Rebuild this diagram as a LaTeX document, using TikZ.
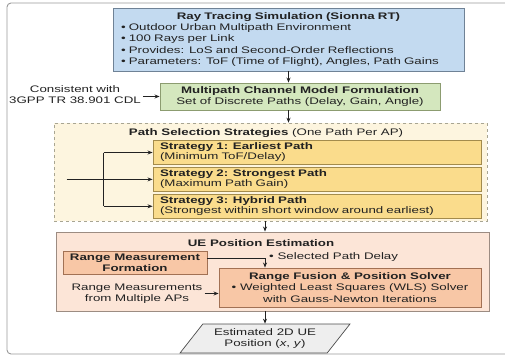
\documentclass[tikz,border=0pt]{standalone}
\usepackage{fontspec}
\setmainfont{Liberation Sans}[FakeStretch=1.4]
\usepackage{xcolor}
\usetikzlibrary{arrows.meta,positioning,shapes.geometric}
\definecolor{locink}{HTML}{222222}
\definecolor{simfill}{HTML}{C3DAF0}
\definecolor{simedge}{HTML}{6F8296}
\definecolor{modelfill}{HTML}{D4E7BE}
\definecolor{modeledge}{HTML}{8C9C70}
\definecolor{groupfill}{HTML}{FDF5DF}
\definecolor{groupedge}{HTML}{A8A592}
\definecolor{stratfill}{HTML}{FADC8C}
\definecolor{stratedge}{HTML}{A38B4C}
\definecolor{uefill}{HTML}{FCE5D7}
\definecolor{ueedge}{HTML}{9C8C82}
\definecolor{blockfill}{HTML}{F8C7A6}
\definecolor{blockedge}{HTML}{A27154}
\definecolor{outfill}{HTML}{EEEEEE}
\newcommand{\locfont}{\fontsize{9.5}{11.2}\selectfont}
\newcommand{\loctitle}[1]{\hfill\textbf{#1}\hfill\null}
\tikzset{
  loc box/.style={
    rectangle,
    line width=0.9pt,
    inner sep=0pt,
    text=locink,
    font=\locfont,
  },
  loc sim/.style={
    loc box,
    draw=simedge,
    fill=simfill,
    minimum width=351pt,
    minimum height=63pt,
    text width=335pt,
    align=left,
  },
  loc model/.style={
    loc box,
    draw=modeledge,
    fill=modelfill,
    minimum width=280pt,
    minimum height=27pt,
    align=center,
  },
  loc group/.style={
    loc box,
    dashed,
    line width=0.6pt,
    draw=groupedge,
    fill=groupfill,
  },
  loc strategy/.style={
    loc box,
    draw=stratedge,
    fill=stratfill,
    minimum width=328pt,
    minimum height=23.5pt,
    text width=314pt,
    align=left,
    font=\fontsize{9.5}{10}\selectfont,
  },
  loc ue/.style={
    loc box,
    draw=ueedge,
    fill=uefill,
    minimum width=433pt,
    minimum height=79pt,
  },
  loc block/.style={
    loc box,
    draw=blockedge,
    fill=blockfill,
    align=center,
  },
  loc output/.style={
    trapezium,
    trapezium left angle=47,
    trapezium right angle=133,
    trapezium stretches=true,
    minimum width=170pt,
    minimum height=29pt,
    inner sep=0pt,
    line width=0.7pt,
    draw=black!70,
    fill=outfill,
    text=locink,
    align=center,
    font=\locfont,
  },
  loc note/.style={text=locink, font=\locfont, inner sep=2pt},
  loc arrow/.style={-{Stealth[length=5pt,width=4pt]}, line width=0.8pt, draw=locink},
  loc line/.style={line width=0.8pt, draw=locink},
  loc frame/.style={line width=0.9pt, draw=black!40, rounded corners=4pt},
}

\begin{document}
\begin{tikzpicture}[x=1pt,y=-1pt]
  \useasboundingbox (0,0) rectangle (505,356);
  \draw[loc frame] (7,3) rectangle (522,354);

  % ray tracing and channel model
  \node[loc sim] (sim) at (288.5,39.5) {%
    \loctitle{Ray Tracing Simulation (Sionna RT)}\\
    • Outdoor Urban Multipath Environment\\
    • 100 Rays per Link\\
    • Provides: LoS and Second-Order Reflections\\
    • Parameters: ToF (Time of Flight), Angles, Path Gains};
  \node[loc model] (model) at (300,96.5)
    {\textbf{Multipath Channel Model Formulation}\\Set of Discrete Paths (Delay, Gain, Angle)};
  \node[loc note, align=center] (cdl) at (75,95) {Consistent with\\3GPP TR 38.901 CDL};

  % path selection
  \node[loc group, minimum width=433pt, minimum height=98pt] (sel) at (270.5,172) {};
  \node[loc note] (seltitle) at (266,133) {\textbf{Path Selection Strategies} (One Path Per AP)};
  \node[loc strategy] (s1) at (317,152.5)
    {\textbf{Strategy 1: Earliest Path}\\(Minimum ToF/Delay)};
  \node[loc strategy, below=2.5pt of s1] (s2)
    {\textbf{Strategy 2: Strongest Path}\\(Maximum Path Gain)};
  \node[loc strategy, below=2.5pt of s2] (s3)
    {\textbf{Strategy 3: Hybrid Path}\\(Strongest within short window around earliest)};
  \coordinate[left=86pt of s2.west] (feed);
  \coordinate[left=49pt of s2.west] (split);

  % position estimation
  \node[loc ue] (ue) at (272.5,271.5) {};
  \node[loc note] (uetitle) at (261,243) {\textbf{UE Position Estimation}};
  \node[loc block, minimum width=144pt, minimum height=23pt] (rmf) at (135,262.5)
    {\textbf{Range Measurement}\\\textbf{Formation}};
  \node[loc note, anchor=west] (delay) at (267,257) {• Selected Path Delay};
  \node[loc block, minimum width=262pt, minimum height=39pt] (fusion) at (350,287.5)
    {\textbf{Range Fusion \& Position Solver}\\
     • Weighted Least Squares (WLS) Solver\\
     with Gauss-Newton Iterations};
  \node[loc note, align=center] (meas) at (137,293.5) {Range Measurements\\from Multiple APs};
  \node[loc output] (out) at (265,338.5) {Estimated 2D UE\\Position (\textit{x}, \textit{y})};

  % connectors
  \draw[loc arrow] (sim.south) -- (sim.south |- model.north);
  \draw[loc arrow] (sim.south |- model.south) -- (sim.south |- sel.north);
  \draw[loc arrow] (cdl.east |- model.west) -- (model.west);
  \draw[loc arrow] (feed) -- (s2.west);
  \draw[loc line] (split |- s1.west) -- (split |- s3.west);
  \draw[loc arrow] (split |- s1.west) -- (s1.west);
  \draw[loc arrow] (split |- s3.west) -- (s3.west);
  \draw[loc arrow] (out.north |- sel.south) -- (out.north |- ue.north);
  \draw[loc arrow] ([yshift=4.5pt]rmf.east) -| (out.north |- fusion.north);
  \draw[loc arrow] (meas.east) -- (meas.east -| fusion.west);
  \draw[loc arrow] (out.north |- ue.south) -- (out.north);
\end{tikzpicture}
\end{document}
